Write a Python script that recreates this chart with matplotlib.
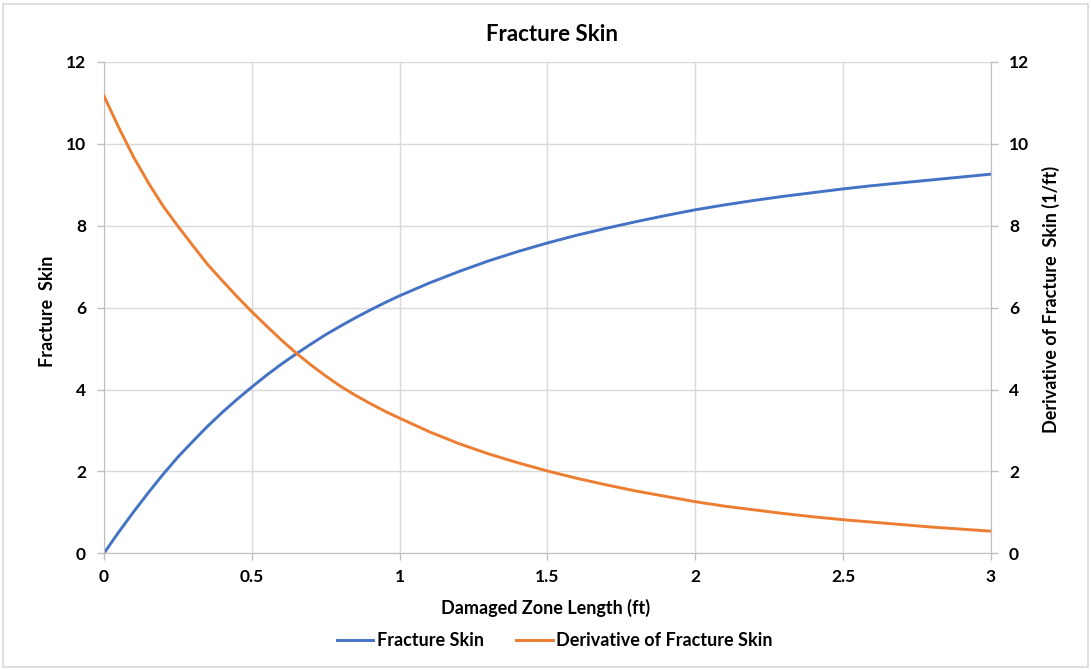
import matplotlib
matplotlib.use("Agg")
import matplotlib.pyplot as plt
from matplotlib.patches import Rectangle

plt.rcParams['font.family'] = ['Lato', 'DejaVu Sans']
plt.rcParams['font.weight'] = 'bold'

# damaged zone length (ft)
zone_len = [0.0, 0.05, 0.1, 0.15, 0.2, 0.25, 0.3, 0.35, 0.4, 0.45, 0.5,
            0.55, 0.6, 0.65, 0.7, 0.75, 0.8, 0.85, 0.9, 0.95, 1.0,
            1.1, 1.2, 1.3, 1.4, 1.5, 1.6, 1.7, 1.8, 1.9, 2.0,
            2.1, 2.2, 2.3, 2.4, 2.5, 2.6, 2.7, 2.8, 2.9, 3.0]
# fracture skin
frac_skin = [0.0, 0.52, 1.01, 1.48, 1.93, 2.35, 2.73, 3.10, 3.44, 3.76, 4.06,
             4.35, 4.62, 4.87, 5.11, 5.34, 5.55, 5.75, 5.94, 6.12, 6.29,
             6.60, 6.88, 7.14, 7.37, 7.58, 7.77, 7.94, 8.10, 8.25, 8.39,
             8.51, 8.62, 8.72, 8.81, 8.90, 8.98, 9.05, 9.12, 9.19, 9.26]
# derivative of fracture skin (1/ft)
deriv_skin = [11.17, 10.40, 9.68, 9.05, 8.48, 7.99, 7.52, 7.06, 6.66, 6.27, 5.90,
              5.55, 5.21, 4.89, 4.60, 4.33, 4.08, 3.86, 3.66, 3.47, 3.30,
              2.97, 2.68, 2.43, 2.21, 2.01, 1.83, 1.67, 1.52, 1.39, 1.26,
              1.15, 1.06, 0.97, 0.89, 0.82, 0.76, 0.70, 0.64, 0.59, 0.54]

x_ticks = [0, 0.5, 1, 1.5, 2, 2.5, 3]
x_tick_labels = ['0', '0.5', '1', '1.5', '2', '2.5', '3']
y_ticks = [0, 2, 4, 6, 8, 10, 12]

blue = '#4472C4'
orange = '#ED7D31'
grid_c = '#d9d9d9'
axis_c = '#bfbfbf'

fig = plt.figure(figsize=(10.91, 6.70), dpi=100)
fig.patches.append(Rectangle((0.003, 0.004), 0.994, 0.99, transform=fig.transFigure,
                             fill=False, edgecolor='#d9d9d9', linewidth=1.2))

ax = fig.add_axes([0.0953, 0.1742, 0.8130, 0.7333])
ax2 = ax.twinx()

l1, = ax.plot(zone_len, frac_skin, color=blue, lw=2.1, label='Fracture Skin')
l2, = ax2.plot(zone_len, deriv_skin, color=orange, lw=2.1, label='Derivative of Fracture Skin')

for a in (ax, ax2):
    a.set_xlim(0, 3)
    a.set_ylim(0, 12)
    a.set_yticks(y_ticks)
    for s in a.spines.values():
        s.set_visible(False)
    a.tick_params(axis='both', length=5, width=1, color=axis_c, labelsize=12.5,
                  labelcolor='#000000')

ax.set_xticks(x_ticks)
ax.set_xticklabels(x_tick_labels)
ax.grid(True, color=grid_c, lw=1)
ax.set_axisbelow(True)
ax.spines['bottom'].set_visible(True)
ax.spines['bottom'].set_color(axis_c)
ax.spines['left'].set_visible(True)
ax.spines['left'].set_color(axis_c)
ax2.spines['right'].set_visible(True)
ax2.spines['right'].set_color(axis_c)
ax.tick_params(axis='x', pad=6)
ax.tick_params(axis='y', pad=8)
ax2.tick_params(axis='y', pad=8)

# titles and axis labels
fig.text(0.5064, 0.948, 'Fracture Skin', ha='center', va='center', fontsize=16,
         fontweight='bold')
fig.text(0.5005, 0.0925, 'Damaged Zone Length (ft)', ha='center', va='center',
         fontsize=13, fontweight='bold')
fig.text(0.0431, 0.536, 'Fracture  Skin', ha='center', va='center', rotation=90,
         fontsize=13, fontweight='bold')
fig.text(0.9633, 0.553, 'Derivative of Fracture  Skin (1/ft)', ha='center', va='center',
         rotation=90, fontsize=13, fontweight='bold')

fig.legend(handles=[l1, l2], loc='center', bbox_to_anchor=(0.5087, 0.0433), ncol=2,
           frameon=False, fontsize=13, handlelength=2.0, columnspacing=1.8,
           handletextpad=0.2)

fig.savefig('out.png', dpi=100)
